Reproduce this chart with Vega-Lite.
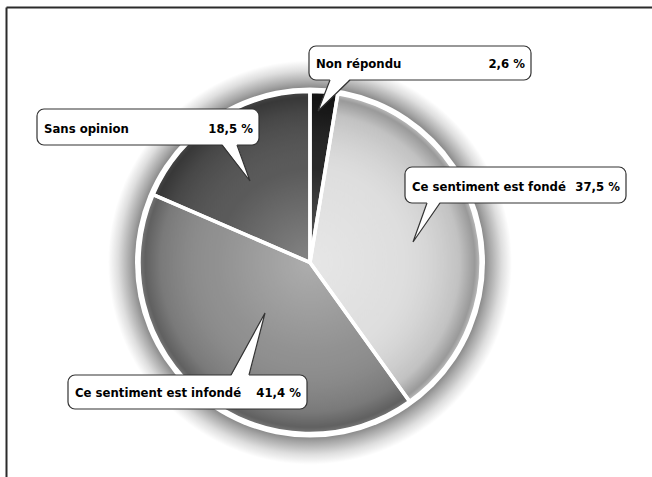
{
  "$schema": "https://vega.github.io/schema/vega-lite/v6.json",
  "width": 652,
  "height": 477,
  "padding": 0,
  "autosize": "none",
  "background": "white",
  "config": {"view": {"stroke": null}},
  "datasets": {
    "pie": [
      {"cat": "Non répondu", "value": 2.6, "o": 1},
      {"cat": "Ce sentiment est fondé", "value": 37.5, "o": 2},
      {"cat": "Ce sentiment est infondé", "value": 41.4, "o": 3},
      {"cat": "Sans opinion", "value": 18.5, "o": 4}
    ],
    "center": [{"cx": 310, "cy": 262.5}],
    "frame": [
      {"x": 6.5, "y": 7.5, "x2": 652, "y2": 7.5},
      {"x": 6.5, "y": 7.5, "x2": 6.5, "y2": 477}
    ],
    "callouts": [
      {"label": "Non répondu", "pct": "2,6 %", "x1": 309, "x2": 531, "y1": 46, "y2": 80},
      {"label": "Sans opinion", "pct": "18,5 %", "x1": 37, "x2": 259, "y1": 109, "y2": 145},
      {"label": "Ce sentiment est fondé", "pct": "37,5 %", "x1": 405, "x2": 626, "y1": 167, "y2": 203},
      {"label": "Ce sentiment est infondé", "pct": "41,4 %", "x1": 68, "x2": 307, "y1": 375, "y2": 409}
    ],
    "tri": [
      {"id": 1, "x": 318, "y": 111, "y2": 111},
      {"id": 1, "x": 330, "y": 79, "y2": 99},
      {"id": 1, "x": 350, "y": 79, "y2": 79},
      {"id": 2, "x": 222, "y": 144, "y2": 144},
      {"id": 2, "x": 237, "y": 144, "y2": 163.8},
      {"id": 2, "x": 250, "y": 181, "y2": 181},
      {"id": 3, "x": 413, "y": 242, "y2": 242},
      {"id": 3, "x": 427, "y": 202, "y2": 221.3},
      {"id": 3, "x": 440, "y": 202, "y2": 202},
      {"id": 4, "x": 231, "y": 376, "y2": 376},
      {"id": 4, "x": 249, "y": 376, "y2": 342.6},
      {"id": 4, "x": 265, "y": 313, "y2": 313}
    ],
    "ptr": [
      {"id": 1, "ord": 1, "x": 330, "y": 80},
      {"id": 1, "ord": 2, "x": 318, "y": 111},
      {"id": 1, "ord": 3, "x": 350, "y": 80},
      {"id": 2, "ord": 1, "x": 222, "y": 145},
      {"id": 2, "ord": 2, "x": 250, "y": 181},
      {"id": 2, "ord": 3, "x": 237, "y": 145},
      {"id": 3, "ord": 1, "x": 427, "y": 203},
      {"id": 3, "ord": 2, "x": 413, "y": 242},
      {"id": 3, "ord": 3, "x": 440, "y": 203},
      {"id": 4, "ord": 1, "x": 231, "y": 375},
      {"id": 4, "ord": 2, "x": 265, "y": 313},
      {"id": 4, "ord": 3, "x": 249, "y": 375}
    ]
  },
  "layer": [
    {
      "data": {"name": "frame"},
      "mark": {"type": "rule", "stroke": "#2b2b2b", "strokeWidth": 2},
      "encoding": {
        "x": {"field": "x", "type": "quantitative", "scale": {"domain": [0, 652], "nice": false, "zero": false}, "axis": null},
        "x2": {"field": "x2"},
        "y": {"field": "y", "type": "quantitative", "scale": {"domain": [0, 477], "nice": false, "zero": false, "reverse": true}, "axis": null},
        "y2": {"field": "y2"}
      }
    },
    {
      "data": {"name": "center"},
      "mark": {
        "type": "arc", "theta": 0, "theta2": 6.2832, "outerRadius": 202,
        "fill": {"gradient": "radial", "x1": 0.5, "y1": 0.5, "r1": 0, "x2": 0.5, "y2": 0.5, "r2": 0.5,
          "stops": [
            {"offset": 0, "color": "#666666"},
            {"offset": 0.85, "color": "#7a7a7a"},
            {"offset": 0.89, "color": "#a5a5a5"},
            {"offset": 0.95, "color": "#dedede"},
            {"offset": 1, "color": "#ffffff"}
          ]}
      },
      "encoding": {
        "x": {"field": "cx", "type": "quantitative", "axis": null},
        "y": {"field": "cy", "type": "quantitative", "axis": null}
      }
    },
    {
      "data": {"name": "center"},
      "mark": {"type": "arc", "theta": 0, "theta2": 6.2832, "outerRadius": 175, "fill": "#ffffff"},
      "encoding": {
        "x": {"field": "cx", "type": "quantitative", "axis": null},
        "y": {"field": "cy", "type": "quantitative", "axis": null}
      }
    },
    {
      "data": {"name": "pie"},
      "mark": {"type": "arc", "outerRadius": 170},
      "encoding": {
        "x": {"datum": 310, "type": "quantitative", "axis": null},
        "y": {"datum": 262.5, "type": "quantitative", "axis": null},
        "theta": {"field": "value", "type": "quantitative", "stack": true},
        "order": {"field": "o", "type": "quantitative"},
        "color": {
          "field": "cat", "type": "nominal", "legend": null,
          "scale": {
            "domain": ["Non répondu", "Ce sentiment est fondé", "Ce sentiment est infondé", "Sans opinion"],
            "range": ["#1c1c1c", "#dcdcdc", "#8a8a8a", "#505050"]
          }
        }
      }
    },
    {
      "data": {"name": "center"},
      "mark": {
        "type": "arc", "theta": 0, "theta2": 6.2832, "outerRadius": 170,
        "fill": {"gradient": "radial", "x1": 0.5, "y1": 0.5, "r1": 0, "x2": 0.5, "y2": 0.5, "r2": 0.5,
          "stops": [
            {"offset": 0, "color": "rgba(255,255,255,0.3)"},
            {"offset": 0.55, "color": "rgba(255,255,255,0.06)"},
            {"offset": 0.88, "color": "rgba(0,0,0,0.12)"},
            {"offset": 0.97, "color": "rgba(0,0,0,0.3)"},
            {"offset": 1, "color": "rgba(0,0,0,0.15)"}
          ]}
      },
      "encoding": {
        "x": {"field": "cx", "type": "quantitative", "axis": null},
        "y": {"field": "cy", "type": "quantitative", "axis": null}
      }
    },
    {
      "data": {"name": "pie"},
      "mark": {"type": "arc", "outerRadius": 171, "fill": null, "filled": false, "stroke": "#ffffff", "strokeWidth": 3.5},
      "encoding": {
        "x": {"datum": 310, "type": "quantitative", "axis": null},
        "y": {"datum": 262.5, "type": "quantitative", "axis": null},
        "theta": {"field": "value", "type": "quantitative", "stack": true},
        "order": {"field": "o", "type": "quantitative"}
      }
    },
    {
      "data": {"name": "callouts"},
      "mark": {"type": "rect", "fill": "#ffffff", "stroke": "#333333", "strokeWidth": 1.2, "cornerRadius": 7},
      "encoding": {
        "x": {"field": "x1", "type": "quantitative", "axis": null},
        "x2": {"field": "x2"},
        "y": {"field": "y1", "type": "quantitative", "axis": null},
        "y2": {"field": "y2"}
      }
    },
    {
      "data": {"name": "tri"},
      "mark": {"type": "area", "orient": "vertical", "fill": "#ffffff", "opacity": 1, "interpolate": "linear"},
      "encoding": {
        "x": {"field": "x", "type": "quantitative", "axis": null},
        "y": {"field": "y", "type": "quantitative", "axis": null},
        "y2": {"field": "y2"},
        "detail": {"field": "id", "type": "nominal"}
      }
    },
    {
      "data": {"name": "ptr"},
      "mark": {"type": "line", "stroke": "#333333", "strokeWidth": 1.2, "interpolate": "linear"},
      "encoding": {
        "x": {"field": "x", "type": "quantitative", "axis": null},
        "y": {"field": "y", "type": "quantitative", "axis": null},
        "detail": {"field": "id", "type": "nominal"},
        "order": {"field": "ord", "type": "quantitative"}
      }
    },
    {
      "data": {"name": "callouts"},
      "mark": {"type": "text", "align": "left", "baseline": "alphabetic", "dx": 7, "dy": -12, "font": "DejaVu Sans Condensed", "fontWeight": "bold", "fontSize": 13, "fill": "#000000"},
      "encoding": {
        "x": {"field": "x1", "type": "quantitative", "axis": null},
        "y": {"field": "y2", "type": "quantitative", "axis": null},
        "text": {"field": "label"}
      }
    },
    {
      "data": {"name": "callouts"},
      "mark": {"type": "text", "align": "right", "baseline": "alphabetic", "dx": -6, "dy": -12, "font": "DejaVu Sans Condensed", "fontWeight": "bold", "fontSize": 13, "fill": "#000000"},
      "encoding": {
        "x": {"field": "x2", "type": "quantitative", "axis": null},
        "y": {"field": "y2", "type": "quantitative", "axis": null},
        "text": {"field": "pct"}
      }
    }
  ]
}
